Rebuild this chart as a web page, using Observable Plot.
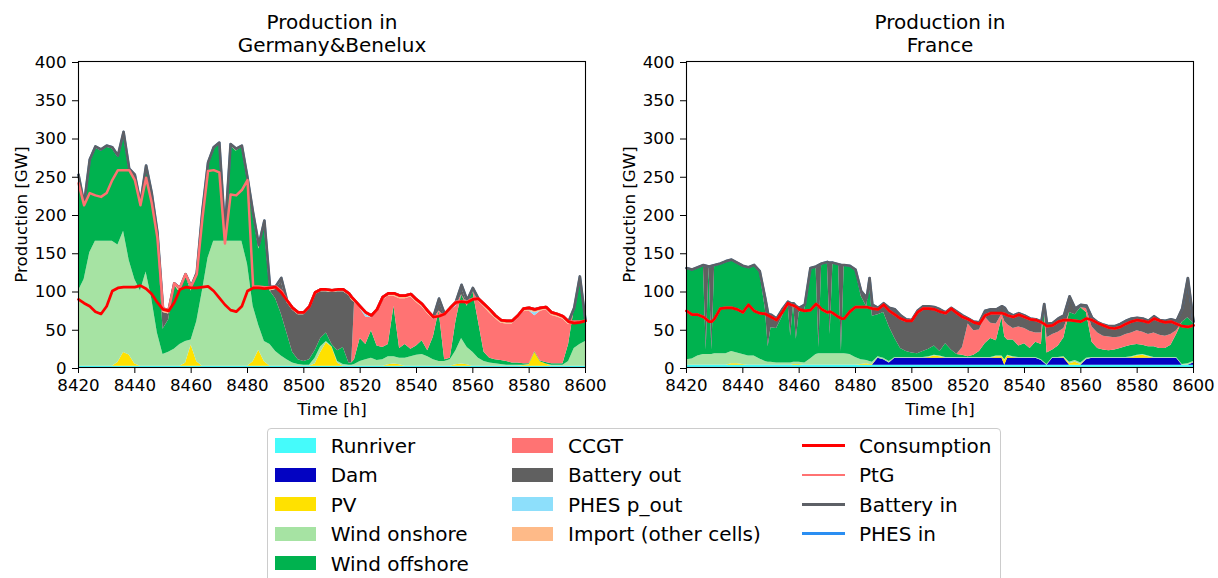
<!DOCTYPE html>
<html>
<head>
<meta charset="utf-8">
<script src="https://cdn.jsdelivr.net/npm/d3@7"></script>
<script src="https://cdn.jsdelivr.net/npm/@observablehq/plot@0.6"></script>
<style>
  html, body { margin: 0; padding: 0; background: #fff; }
  #wrap { position: relative; width: 1218px; height: 578px; overflow: hidden; font-family: "DejaVu Sans", sans-serif; }
  .panel { position: absolute; top: 0; width: 609px; height: 420px; }
  #legend { position: absolute; left: 267px; top: 428px; width: 734px; height: 170px; border: 1px solid #cccccc; border-radius: 4px; box-sizing: border-box; background: #fff; }
  .lg-sw { position: absolute; }
  .lg-tx { position: absolute; font-size: 20px; line-height: 20px; white-space: nowrap; color: #000; }
</style>
</head>
<body>
<div id="wrap">
  <div id="pDE" class="panel" style="left:0px"></div>
  <div id="pFR" class="panel" style="left:608px"></div>
  <div id="legend"></div>
</div>
<script>
// ---------------- categories / labels ----------------
const stackNames = ["Runriver","Dam","PV","Wind onshore","Wind offshore","CCGT","Battery out","PHES p_out","Import (other cells)"];
const stackColors = ["#45fbfb","#0303c2","#ffe100","#a6e3a3","#00b24f","#ff7373","#606060","#8ddffb","#feba88"];
const lineNames = ["Consumption","PtG","Battery in","PHES in"];
const lineColors = ["#ff0000","#ff7272","#5d6066","#2a8ef2"];
const xTicks = [8420,8440,8460,8480,8500,8520,8540,8560,8580,8600];
const yTicks = [0,50,100,150,200,250,300,350,400];
const titleDE = ["Production in", "Germany&Benelux"];
const titleFR = ["Production in", "France"];

// ---------------- Germany & Benelux (GW) ----------------
const tDE = [8420,8422,8424,8426,8428,8430,8432,8434,8436,8438,
  8440,8442,8444,8446,8448,8450,8452,8454,8456,8458,
  8460,8462,8464,8466,8468,8470,8472,8474,8476,8478,
  8480,8482,8484,8486,8488,8490,8492,8494,8496,8498,
  8500,8502,8504,8506,8508,8510,8512,8514,8516,8517,
  8518,8520,8522,8524,8526,8528,8530,8532,8534,8536,
  8538,8540,8542,8544,8546,8548,8550,8552,8554,8556,
  8558,8560,8562,8564,8566,8568,8570,8572,8574,8576,
  8578,8580,8582,8584,8586,8588,8590,8592,8594,8596,
  8598,8600];
const runDE = [1.5,1.5,1.5,1.5,1.5,1.5,1.5,1.5,1.5,1.5, 1.5,1.5,1.5,1.5,1.5,1.5,1.5,1.5,1.5,1.5,
  1.5,1.5,1.5,1.5,1.5,1.5,1.5,1.5,1.5,1.5, 1.5,1.5,1.5,1.5,1.5,1.5,1.5,1.5,1.5,1.5,
  1.5,1.5,1.5,1.5,1.5,1.5,1.5,1.5,1.5,1.5, 1.5,1.5,1.5,1.5,1.5,1.5,1.5,1.5,1.5,1.5,
  1.5,1.5,1.5,1.5,1.5,1.5,1.5,1.5,1.5,1.5, 1.5,1.5,1.5,1.5,1.5,1.5,1.5,1.5,1.5,1.5,
  1.5,1.5,1.5,1.5,1.5,1.5,1.5,1.5,1.5,1.5, 1.5,1.5];
const damDE = [0,0,0,0,0,0,0,0,0,0, 0,0,0,0,0,0,0,0,0,0, 0,0,0,0,0,0,0,0,0,0, 0,0,0,0,0,0,0,0,0,0,
  0,0,0,0,0,0,0,0,0,0, 0,0,0,0,0,0,0,0,0,0, 0,0,0,0,0,0,0,0,0,0, 0,0,0,0,0,0,0,0,0,0,
  0,0,0,0,0,0,0,0,0,0, 0,0];
const pvDE = [0,0,0,0,0,0,0,5,18,15,
  3,0,0,0,0,0,0,0,0,4,
  28,6,0,0,0,0,0,0,0,0,
  0,6,21,6,0,0,0,0,0,0,
  0,0,3,18,31,25,4,0,0,0,
  0,0,0,0,0,0,2,3,2,0,
  0,0,0,0,0,0,0,0,2,3,
  2,0,0,0,0,0,0,0,0,0,
  1,2,18,6,3,0,0,0,0,0,
  0,0];
const onDE = [98.5,113.5,148.5,163.5,163.5,163.5,163.5,153.5,158.5,123.5,
  110.5,98.5,123.5,88.5,43.5,15.5,18.5,22.5,28.5,28.5,
  6.5,52.5,98.5,141.5,163.5,163.5,163.5,163.5,163.5,163.5,
  133.5,72.5,32.5,26.5,28.5,19.5,13.5,8.5,4.5,2.5,
  1.5,1.5,7.5,7.5,1.5,0.5,2.5,2.5,1.5,1.5,
  2.5,6.5,8.5,10.5,7.5,8.5,10.5,9.5,8.5,10.5,
  12.5,14.5,15.5,12.5,8.5,6.5,6.5,8.5,18.5,33.5,
  22.5,18.5,10.5,6.5,4.5,3.5,2.5,1.5,1.5,1.5,
  0.5,0.5,0,0,0,1.5,1.5,1.5,6.5,23.5,
  28.5,32.5];
const offDE = [150,97,120,122,118,123,121,115,127,118,
  135,113,137,135,130,33,42,84,68,86,
  64,62,100,122,120,127,10,125,118,123,
  110,120,100,151,70,69,55,35,14,6,
  5,7,10,11,11,3,14,22,3,3,
  6,30,20,36,19,16,16,66,13,18,
  10,12,18,8,30,66,2,2,38,57,
  54,80,48,12,6,5,5,5,3,3,
  2,1,1,1,2,2,2,2,22,51,
  87,26];
const ccgtDE = [0,0,0,0,0,0,0,0,0,0, 0,0,0,0,0,0,0,0,0,0, 0,0,0,0,0,0,0,0,0,0, 0,0,0,0,0,0,0,0,0,0,
  0,0,0,0,0,0,0,0,0,0,
  75,39,36,17,45,62,63,13,65,60,
  68,57,44,48,23,0,57,63,20,0,
  4,0,27,59,59,54,49,49,51,58,
  68,69,47,65,69,63,61,58,26,0,
  0,0];
const batOutDE = [0,0,0,0,0,0,0,0,0,0,
  0,0,0,0,0,22,8,0,0,0,
  0,0,0,0,0,0,0,0,0,0,
  0,0,0,0,0,12,42,40,55,59,
  61,67,73,61,54,68,77,73,88,82,
  0,0,0,0,0,0,0,0,0,0,
  0,0,0,0,0,14,0,0,0,10,
  0,2,0,0,0,0,0,0,0,0,
  0,0,0,0,0,0,0,0,0,0,
  0,0];
const phesOutDE = [0,0,0,0,0,0,0,0,0,0, 0,0,0,0,0,0,0,0,0,0, 0,0,0,0,0,0,0,0,0,0, 0,0,0,0,0,0,0,0,0,0,
  0,0,0,0,0,0,0,0,0,0,
  0,0,3,0,0,0,0,0,0,0,
  0,0,0,0,0,0,0,0,3,0,
  0,0,0,0,0,0,0,0,0,0,
  0,0,4,0,0,0,0,0,0,0,
  0,0];
const importDE = [2,2,2,2,2,2,2,2,3,2,
  2,2,2,3,2,5,5,2,6,2,
  6,2,5,3,3,2,3,2,3,2,
  3,2,5,7,5,4,5,4,4,4,
  4,4,4,4,4,4,4,4,4,4,
  4,4,4,4,4,4,5,5,5,5,
  5,5,5,5,5,2,4,4,4,3,
  4,2,4,5,5,5,5,5,5,5,
  5,5,5,5,5,5,5,5,4,2,
  2,2];
const consDE = [89,84,80,73,70,80,100,104,105,105,
  105,107,103,96,85,76,74,85,102,105,
  104,104,105,106,100,91,82,75,73,80,
  100,104,104,103,104,105,98,88,78,72,
  72,80,98,102,102,101,102,102,97,92,
  88,80,72,68,76,92,97,97,94,94,
  96,89,83,74,66,67,70,78,85,86,
  85,89,90,83,76,68,62,61,61,68,
  77,78,76,78,79,72,70,67,60,58,
  59,61];
const ptgDE = [152,128,148,152,153,148,145,154,153,153,
  140,105,145,119,85,1,1,25,2,17,
  2,18,90,151,158,164,80,151,152,152,
  145,2,2,2,1,1,2,0,0,0,
  0,0,0,0,0,0,0,0,0,0,
  0,0,0,0,0,0,0,0,0,0,
  0,0,0,0,0,1,0,0,1,1,
  1,1,0,0,0,0,0,0,0,0,
  0,0,0,0,0,0,0,0,0,2,
  1,0];
const batInDE = [11,2,44,64,62,62,43,19,50,2,
  7,3,16,13,7,0,0,0,0,0,
  0,2,10,11,30,39,16,66,61,58,
  3,96,54,87,0,0,17,0,0,0,
  0,0,0,0,0,0,0,0,0,0,
  0,0,0,0,0,0,0,0,0,0,
  0,0,0,0,0,22,0,0,0,21,
  2,14,0,0,0,0,0,0,0,0,
  0,0,0,0,0,0,0,0,0,18,
  59,0];
const phesInDE = [0,0,0,0,0,0,0,0,0,0, 0,0,0,0,0,0,0,0,0,0, 0,0,0,0,0,0,0,0,0,0, 0,0,0,0,0,0,0,0,0,0,
  0,0,0,0,0,0,0,0,0,0, 0,0,0,0,0,0,0,0,0,0, 0,0,0,0,0,0,0,0,0,0, 0,0,0,0,0,0,0,0,0,0,
  0,0,0,0,0,0,0,0,0,0, 0,0];

// ---------------- France (GW) ----------------
const tFR = [8420,8422,8424,8426,8427,8428,8429,8430,8432,8434,
  8436,8438,8440,8442,8444,8446,8448,8449,8450,8452,
  8454,8456,8457,8458,8459,8460,8462,8464,8466,8467,
  8468,8470,8471,8472,8474,8475,8476,8478,8480,8482,
  8484,8485,8486,8488,8490,8492,8494,8496,8498,8500,
  8502,8504,8506,8508,8510,8512,8514,8516,8518,8520,
  8522,8524,8526,8528,8530,8532,8533,8534,8536,8538,
  8540,8542,8544,8546,8547,8548,8550,8552,8554,8556,
  8558,8560,8562,8564,8566,8568,8570,8572,8574,8576,
  8578,8580,8582,8584,8586,8588,8590,8592,8594,8596,
  8598,8600];
const runFR = [3,3,3,3,3,3,3,3,3,3, 3,3,3,3,3,3,3,3,3,3, 3,3,3,3,3,3,3,3,3,3, 3,3,3,3,3,3,3,3,3,3,
  3,3,3,3,3,3,3,3,3,3, 3,3,3,3,3,3,3,3,3,3, 3,3,3,3,3,3,3,3,3,3, 3,3,3,3,3,3,3,3,3,3,
  3,3,3,3,3,3,3,3,3,3, 3,3,3,3,3,3,3,3,3,3, 3,3];
const damFR = [0,0,0,0,0,0,0,0,0,0,
  0,0,0,0,0,0,0,0,0,0,
  0,0,0,0,0,0,0,0,0,0,
  0,0,0,0,0,0,0,0,0,0,
  0,0,0,9,7,3,9,9,9,9,
  9,9,9,9,9,9,9,9,9,9,
  9,9,9,9,9,9,0,9,9,9,
  9,9,9,6,3,0,9,9,9,0,
  0,0,7,9,9,9,9,9,9,9,
  9,9,9,9,9,9,9,9,9,0,
  0,3];
const pvFR = [0,0,0,0,0,0,0,0,0,0,
  2,2,1,0,0,0,0,0,0,0,
  0,0,0,1,1,1,0,0,0,0,
  0,0,0,0,0,0,0,0,0,1,
  2,1,1,0,0,0,0,0,0,0,
  0,0,1,3,2,0,0,0,0,0,
  0,0,0,0,2,2,6,3,1,0,
  0,0,0,0,0,0,0,0,1,2,
  4,1,0,0,0,0,0,0,0,0,
  1,3,4,2,0,0,0,0,0,0,
  0,0];
const onFR = [7,8,12,14,14,14,14,15,15,15,
  16,14,13,12,12,8,5,4,4,3,
  3,3,3,3,3,3,3,8,14,15,
  15,15,15,15,15,15,15,14,10,6,
  4,4,3,2,2,2,1,1,1,1,
  1,1,1,1,1,1,1,1,1,1,
  1,1,1,1,1,1,1,1,1,1,
  1,1,1,1,1,1,1,1,1,2,
  2,2,2,1,1,1,1,1,1,1,
  1,1,1,1,1,1,1,1,1,1,
  2,2];
const offFR = [120,117,116,117,6,115,6,116,118,121,
  120,118,116,116,119,115,68,20,45,45,
  60,80,35,77,30,65,70,119,115,8,
  118,120,25,119,117,3,116,116,115,83,
  70,100,60,55,60,45,25,12,8,6,
  5,8,10,12,6,18,10,4,3,1,
  3,8,18,25,20,50,30,20,22,15,
  18,12,20,20,70,15,10,15,25,65,
  60,72,60,20,12,10,9,10,12,14,
  15,14,12,12,14,12,12,16,30,55,
  60,50];
const ccgtFR = [0,0,0,0,0,0,0,0,0,0,
  0,0,0,0,0,0,0,0,0,0,
  0,0,0,0,0,0,0,0,0,0,
  0,0,0,0,0,0,0,0,0,0,
  0,0,0,0,0,0,0,0,0,0,
  0,0,0,0,0,0,0,0,10,43,
  32,28,35,20,22,5,20,20,15,25,
  20,22,12,15,0,20,20,18,12,0,
  0,0,5,20,20,18,18,16,15,16,
  16,18,17,16,18,17,16,14,5,0,
  0,0];
const batOutFR = [0,0,0,0,110,0,110,0,0,0,
  0,0,0,0,0,0,14,43,17,13,
  10,0,43,0,43,6,6,0,0,108,
  0,0,94,0,0,113,0,0,0,7,
  12,9,15,9,12,25,38,43,42,43,
  56,59,56,51,55,41,55,56,42,7,
  12,10,8,18,19,10,18,16,17,18,
  17,17,18,15,6,18,15,18,17,21,
  8,4,4,12,14,15,14,15,17,18,
  19,17,18,18,22,20,20,20,13,18,
  52,2];
const phesOutFR = [0,0,0,0,0,0,0,0,0,0, 0,0,0,0,0,0,0,0,0,0, 0,0,0,0,0,0,0,0,0,0, 0,0,0,0,0,0,0,0,0,0,
  0,0,0,0,0,0,0,0,0,0, 0,0,0,0,0,0,0,0,0,0, 0,0,0,0,0,0,0,0,0,0, 0,0,0,0,0,0,0,0,0,0,
  0,0,0,0,0,0,0,0,0,0, 0,0,0,0,0,0,0,0,0,0, 0,0];
const importFR = [0,0,0,0,0,0,0,0,0,0, 0,0,0,0,0,0,0,0,0,0, 0,0,0,0,0,0,0,0,0,0, 0,0,0,0,0,0,0,0,0,0,
  0,0,0,0,0,0,0,0,0,0, 0,0,0,0,0,0,0,0,0,0, 0,0,0,0,0,0,0,0,0,0, 0,0,0,0,0,0,0,0,0,0,
  0,0,0,0,0,0,0,0,0,0, 0,0,0,0,0,0,0,0,0,0, 0,0];
const consFR = [74,69,69,66,63,60,60,64,77,78,
  78,76,72,82,74,71,70,68,66,62,
  72,84,82,81,79,76,74,75,83,80,
  76,72,73,71,66,64,64,73,79,79,
  79,78,77,76,82,74,69,64,61,61,
  72,77,77,76,73,71,77,71,66,63,
  59,57,68,71,71,71,70,68,66,69,
  66,63,62,59,57,54,55,60,62,62,
  61,60,64,62,58,55,52,51,53,57,
  60,62,61,59,64,61,59,60,57,54,
  53,55];
const ptgFR = [0,0,0,0,0,0,0,0,0,0, 0,0,0,0,0,0,0,0,0,0, 0,0,0,0,0,0,0,0,0,0, 0,0,0,0,0,0,0,0,0,0,
  0,0,0,0,0,0,0,0,0,0, 0,0,0,0,0,0,0,0,0,0, 0,0,0,0,0,0,0,0,0,0, 0,0,0,0,0,0,0,0,0,0,
  0,0,0,0,0,0,0,0,0,0, 0,0,0,0,0,0,0,0,0,0, 0,0];
const batInFR = [56,59,62,68,70,72,73,70,59,61,
  63,61,61,49,60,55,20,2,3,2,
  4,2,2,3,1,2,8,55,49,54,
  60,66,64,66,69,70,70,60,49,21,
  12,39,5,2,2,4,7,4,2,1,
  2,3,3,3,3,1,1,2,2,1,
  1,2,6,5,5,9,8,4,2,2,
  2,1,1,1,26,3,3,4,6,31,
  16,22,17,3,1,1,2,3,4,4,
  4,3,3,2,3,1,2,3,4,23,
  64,5];
const phesInFR = [0,0,0,0,0,0,0,0,0,0, 0,0,0,0,0,0,0,0,0,0, 0,0,0,0,0,0,0,0,0,0, 0,0,0,0,0,0,0,0,0,0,
  0,0,0,0,0,0,0,0,0,0, 0,0,0,0,0,0,0,0,0,0, 0,0,0,0,0,0,0,0,0,0, 0,0,0,0,0,0,0,0,0,0,
  0,0,0,0,0,0,0,0,0,0, 0,0,0,0,0,0,0,0,0,0, 0,0];

// ---------------- drawing ----------------
function checkLen(label, t, arrs) {
  arrs.forEach((a, k) => { if (a.length !== t.length) throw new Error(label + " series " + k + " length " + a.length + " != " + t.length); });
}

function makePanel(label, title, t, stacks, cons, ptg, batIn, phesIn) {
  checkLen(label, t, [...stacks, cons, ptg, batIn, phesIn]);
  const area = [];
  stackNames.forEach((name, k) => stacks[k].forEach((v, i) => area.push({t: t[i], name, v})));
  const lines = t.map((x, i) => {
    const c = cons[i], p = c + ptg[i], b = p + batIn[i], h = b + phesIn[i];
    return {t: x, c, p, b, h};
  });
  return Plot.plot({
    width: 609, height: 420,
    marginLeft: 78, marginRight: 24, marginTop: 61, marginBottom: 53,
    style: {fontFamily: "DejaVu Sans, sans-serif", fontSize: "16.67px", color: "#000", background: "#fff", overflow: "visible"},
    x: {domain: [8420, 8600]},
    y: {domain: [0, 400]},
    color: {domain: stackNames, range: stackColors},
    marks: [
      Plot.areaY(area, {x: "t", y: "v", fill: "name", order: stackNames}),
      Plot.lineY(lines, {x: "t", y: "h", stroke: lineColors[3], strokeWidth: 2.2}),
      Plot.lineY(lines, {x: "t", y: "b", stroke: lineColors[2], strokeWidth: 2.7}),
      Plot.lineY(lines, {x: "t", y: "p", stroke: lineColors[1], strokeWidth: 2.5}),
      Plot.lineY(lines, {x: "t", y: "c", stroke: lineColors[0], strokeWidth: 2.7}),
      Plot.frame({stroke: "#000", strokeWidth: 1.1}),
      Plot.axisX({ticks: xTicks, tickFormat: "d", tickSize: 6, tickPadding: 6, label: null}),
      Plot.axisY({ticks: yTicks, tickSize: 6, tickPadding: 6, label: null, dy: 1}),
      Plot.text([title[0]], {text: d => d, frameAnchor: "top", dy: -32.5, lineAnchor: "bottom", fontSize: 20}),
      Plot.text([title[1]], {text: d => d, frameAnchor: "top", dy: -10, lineAnchor: "bottom", fontSize: 20}),
      Plot.text(["Time [h]"], {text: d => d, frameAnchor: "bottom", dy: 47.3, lineAnchor: "bottom"}),
      Plot.text(["Production [GW]"], {text: d => d, frameAnchor: "left", rotate: -90, dx: -51.5, lineAnchor: "bottom", textAnchor: "middle"})
    ]
  });
}

document.getElementById("pDE").appendChild(makePanel("DE", titleDE, tDE,
  [runDE, damDE, pvDE, onDE, offDE, ccgtDE, batOutDE, phesOutDE, importDE],
  consDE, ptgDE, batInDE, phesInDE));
document.getElementById("pFR").appendChild(makePanel("FR", titleFR, tFR,
  [runFR, damFR, pvFR, onFR, offFR, ccgtFR, batOutFR, phesOutFR, importFR],
  consFR, ptgFR, batInFR, phesInFR));

// ---------------- legend ----------------
const legend = document.getElementById("legend");
const rowC = i => 16.5 + 29.4 * i;
const cols = [
  {items: stackNames.slice(0, 5), colors: stackColors.slice(0, 5), type: "patch", sw: 7, tx: 62.7},
  {items: stackNames.slice(5), colors: stackColors.slice(5), type: "patch", sw: 244.4, tx: 300},
  {items: lineNames, colors: lineColors, type: "line", sw: 533.7, tx: 591}
];
cols.forEach(col => {
  col.items.forEach((name, i) => {
    const c = rowC(i);
    const sw = document.createElement("div");
    sw.className = "lg-sw";
    if (col.type === "patch") {
      sw.style.cssText = `left:${col.sw}px;top:${c - 7.2}px;width:40.7px;height:14.4px;background:${col.colors[i]};`;
    } else {
      sw.style.cssText = `left:${col.sw}px;top:${c - 1.25}px;width:43.3px;height:2.5px;background:${col.colors[i]};`;
    }
    legend.appendChild(sw);
    const tx = document.createElement("div");
    tx.className = "lg-tx";
    tx.style.left = col.tx + "px";
    tx.style.top = (c - 9.6) + "px";
    tx.textContent = name;
    legend.appendChild(tx);
  });
});
</script>
</body>
</html>
